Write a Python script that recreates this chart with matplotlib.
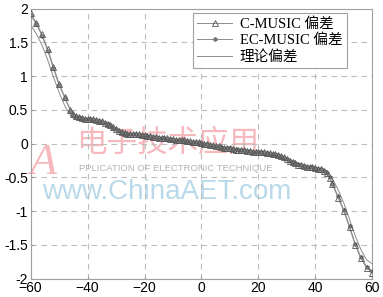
import matplotlib
matplotlib.use('Agg')
import matplotlib.pyplot as plt
import numpy as np

plt.rcParams['font.family'] = ['Liberation Sans', 'Noto Sans CJK SC']

# angle grid (deg): coarse on steep ends, fine in the flat middle
angle = [-60, -58, -56, -54, -52, -50, -48, -46, -45, -44, -43, -42, -41, -40,
         -39, -38, -37, -36, -35, -34, -33, -32, -31, -30, -29, -28, -27, -26,
         -25, -24, -23, -22, -21, -20, -19, -18, -17, -16, -15, -14, -13, -12,
         -11, -10, -9, -8, -7, -6, -5, -4, -3, -2, -1, 0, 1, 2, 3, 4, 5, 6, 7,
         8, 9, 10, 11, 12, 13, 14, 15, 16, 17, 18, 19, 20, 21, 22, 23, 24, 25,
         26, 27, 28, 29, 30, 31, 32, 33, 34, 35, 36, 37, 38, 39, 40, 41, 42,
         43, 44, 45, 46, 48, 50, 52, 54, 56, 58, 60]

c_music = [1.93, 1.79, 1.62, 1.40, 1.14, 0.89, 0.69, 0.50, 0.44, 0.41, 0.39,
           0.38, 0.37, 0.37, 0.36, 0.36, 0.35, 0.34, 0.33, 0.31, 0.29, 0.27,
           0.25, 0.22, 0.19, 0.17, 0.16, 0.15, 0.15, 0.15, 0.14, 0.14, 0.13,
           0.13, 0.12, 0.11, 0.10, 0.10, 0.09, 0.09, 0.08, 0.08, 0.07, 0.07,
           0.06, 0.06, 0.05, 0.05, 0.04, 0.04, 0.03, 0.03, 0.02, 0.01, 0.00,
           -0.01, -0.02, -0.02, -0.03, -0.04, -0.05, -0.06, -0.07, -0.07,
           -0.08, -0.09, -0.09, -0.10, -0.10, -0.11, -0.11, -0.12, -0.12,
           -0.12, -0.13, -0.13, -0.14, -0.14, -0.15, -0.15, -0.16, -0.18,
           -0.20, -0.23, -0.25, -0.27, -0.29, -0.31, -0.32, -0.33, -0.34,
           -0.35, -0.35, -0.36, -0.37, -0.38, -0.40, -0.44, -0.51, -0.60,
           -0.80, -1.00, -1.24, -1.50, -1.70, -1.84, -1.91]

ec_music = [1.91, 1.77, 1.60, 1.38, 1.12, 0.87, 0.68, 0.49, 0.43, 0.40, 0.39,
            0.38, 0.37, 0.36, 0.36, 0.35, 0.35, 0.34, 0.32, 0.31, 0.29, 0.27,
            0.24, 0.22, 0.19, 0.17, 0.16, 0.15, 0.15, 0.14, 0.14, 0.13, 0.13,
            0.12, 0.12, 0.11, 0.10, 0.10, 0.09, 0.08, 0.08, 0.07, 0.07, 0.06,
            0.06, 0.05, 0.05, 0.04, 0.04, 0.03, 0.03, 0.02, 0.01, 0.01, 0.00,
            -0.01, -0.02, -0.03, -0.03, -0.04, -0.05, -0.06, -0.06, -0.07,
            -0.08, -0.08, -0.09, -0.10, -0.10, -0.11, -0.11, -0.12, -0.12,
            -0.13, -0.13, -0.14, -0.14, -0.15, -0.15, -0.16, -0.17, -0.19,
            -0.21, -0.23, -0.25, -0.27, -0.29, -0.30, -0.32, -0.33, -0.34,
            -0.35, -0.35, -0.36, -0.37, -0.38, -0.40, -0.43, -0.50, -0.59,
            -0.78, -0.98, -1.22, -1.48, -1.68, -1.82, -1.89]

theory = [1.76, 1.63, 1.46, 1.24, 0.99, 0.76, 0.56, 0.42, 0.38, 0.36, 0.35,
          0.35, 0.35, 0.35, 0.35, 0.35, 0.34, 0.33, 0.32, 0.30, 0.28, 0.26,
          0.24, 0.21, 0.19, 0.17, 0.16, 0.15, 0.14, 0.14, 0.14, 0.13, 0.13,
          0.12, 0.12, 0.11, 0.10, 0.10, 0.09, 0.08, 0.08, 0.07, 0.07, 0.06,
          0.06, 0.05, 0.05, 0.04, 0.04, 0.03, 0.03, 0.02, 0.01, 0.01, 0.00,
          -0.01, -0.02, -0.02, -0.03, -0.04, -0.04, -0.05, -0.06, -0.07,
          -0.07, -0.08, -0.09, -0.09, -0.10, -0.10, -0.11, -0.11, -0.12,
          -0.12, -0.13, -0.13, -0.14, -0.14, -0.15, -0.16, -0.17, -0.19,
          -0.21, -0.23, -0.25, -0.27, -0.29, -0.30, -0.31, -0.32, -0.33,
          -0.34, -0.34, -0.35, -0.36, -0.37, -0.38, -0.40, -0.45, -0.52,
          -0.68, -0.88, -1.12, -1.36, -1.57, -1.72, -1.78]

fig = plt.figure(figsize=(3.83, 2.97), dpi=100)
ax = fig.add_axes([0.080, 0.0616, 0.892, 0.909])

# watermark (drawn under the data)
ax.text(-60.5, -0.45, 'A', color='#f6b8bc', fontsize=32, family='Liberation Serif',
        style='italic', zorder=0)
ax.text(-44, -0.12, '电子技术应用', color='#f6b8bc', fontsize=22, zorder=0,
        family=['Noto Sans CJK SC'])
ax.text(-43, -0.40, 'PPLICATION OF ELECTRONIC TECHNIQUE', color='#b4b4b4',
        fontsize=6.8, zorder=0)
ax.text(-56, -0.82, 'www.ChinaAET.com', color='#b9d9ea', fontsize=20, zorder=0)

ax.plot(angle, theory, '-', color='#8a8a8a', lw=0.7, label='理论偏差', zorder=2)
ax.plot(angle, ec_music, '-', color='#8a8a8a', lw=0.7, marker=(6, 2, 0),
        ms=3, mec='#777777', label='EC-MUSIC 偏差', zorder=3)
ax.plot(angle, c_music, '-', color='#8a8a8a', lw=0.7, marker='^', ms=4,
        mfc='none', mec='#555555', mew=0.6, label='C-MUSIC 偏差', zorder=4)

ax.set_xlim(-60, 60)
ax.set_ylim(-2, 2)
ax.set_xticks(np.arange(-60, 61, 20))
ax.set_yticks(np.arange(-2, 2.01, 0.5))
ax.set_yticklabels(['-2', '-1.5', '-1', '-0.5', '0', '0.5', '1', '1.5', '2'])
ax.tick_params(direction='in', length=2, labelsize=10, color='#999999', pad=2)
ax.grid(True, ls=(0, (5, 4)), color='#bdbdbd', lw=0.8)
for s in ax.spines.values():
    s.set_color('#a0a0a0')
    s.set_linewidth(0.8)

h, l = ax.get_legend_handles_labels()
leg = ax.legend(h[::-1], l[::-1], loc='upper left', bbox_to_anchor=(0.475, 0.984),
                borderaxespad=0, fancybox=False, edgecolor='#a0a0a0',
                handlelength=2.4, handletextpad=0.5, labelspacing=0.2,
                borderpad=0.3, framealpha=1,
                prop={'family': ['Liberation Serif', 'Noto Sans CJK SC'], 'size': 10.5})
leg.get_frame().set_linewidth(0.8)

# the reference box leaves extra room to the right of the labels
fig.canvas.draw()
frame = leg.get_frame()
frame.set_width(frame.get_width() + 16)

fig.savefig('out.png', dpi=100)
